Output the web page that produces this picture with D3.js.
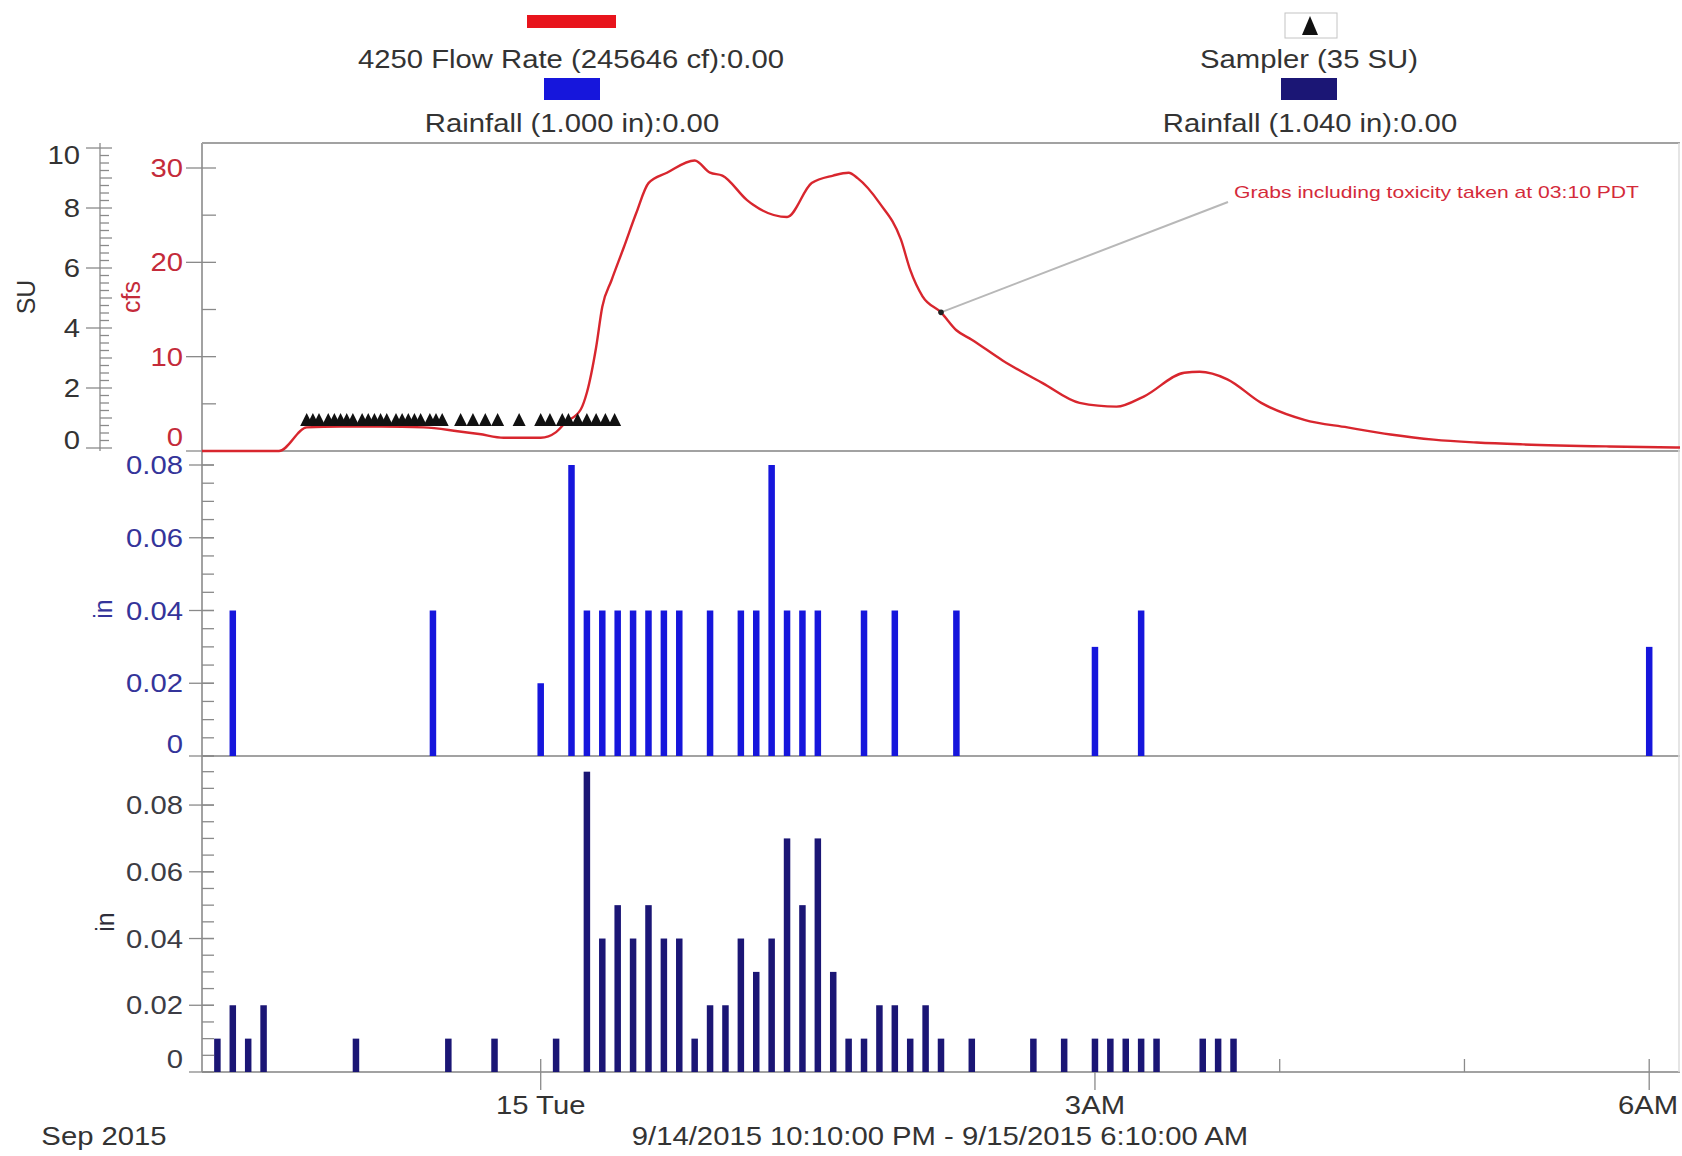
<!DOCTYPE html>
<html><head><meta charset="utf-8">
<script src="https://cdn.jsdelivr.net/npm/d3@7"></script>
<style>
body{margin:0;background:#fff;}
text{font-family:"Liberation Sans",Arial,sans-serif;}
</style>
</head><body>
<svg id="c" width="1682" height="1156"></svg>
<script>
// ---------------- DATA ----------------
const flowTimes = ["2015-09-14 22:10","2015-09-14 22:35","2015-09-14 22:44","2015-09-14 22:55","2015-09-14 23:08","2015-09-14 23:22","2015-09-14 23:33","2015-09-14 23:40","2015-09-14 23:48","2015-09-15 00:00","2015-09-15 00:05","2015-09-15 00:08","2015-09-15 00:13","2015-09-15 00:15","2015-09-15 00:18","2015-09-15 00:20","2015-09-15 00:23","2015-09-15 00:27","2015-09-15 00:31","2015-09-15 00:35","2015-09-15 00:41","2015-09-15 00:50","2015-09-15 00:55","2015-09-15 00:59","2015-09-15 01:07","2015-09-15 01:09","2015-09-15 01:20","2015-09-15 01:28","2015-09-15 01:35","2015-09-15 01:40","2015-09-15 01:43","2015-09-15 01:50","2015-09-15 01:57","2015-09-15 02:00","2015-09-15 02:04","2015-09-15 02:10","2015-09-15 02:15","2015-09-15 02:20","2015-09-15 02:30","2015-09-15 02:43","2015-09-15 02:55","2015-09-15 03:07","2015-09-15 03:16","2015-09-15 03:29","2015-09-15 03:34","2015-09-15 03:43","2015-09-15 03:54","2015-09-15 04:08","2015-09-15 04:22","2015-09-15 04:36","2015-09-15 04:50","2015-09-15 05:04","2015-09-15 05:19","2015-09-15 05:47","2015-09-15 06:10"];
const flowValues = [0,0,2.5,2.6,2.6,2.5,2.1,1.8,1.4,1.4,2.0,3.0,4.4,6.2,11.0,15.3,18.1,21.6,25.2,28.4,29.5,30.8,29.5,29.2,26.6,26.1,24.8,28.4,29.2,29.5,28.9,26.3,22.4,19.2,16.4,14.7,12.8,11.8,9.6,7.2,5.1,4.7,5.8,8.3,8.4,7.6,5.1,3.3,2.5,1.75,1.2,0.9,0.7,0.48,0.37];

const samplerTimes = ["2015-09-14 22:44","2015-09-14 22:46","2015-09-14 22:48","2015-09-14 22:51","2015-09-14 22:53","2015-09-14 22:55","2015-09-14 22:57","2015-09-14 22:59","2015-09-14 23:02","2015-09-14 23:04","2015-09-14 23:06","2015-09-14 23:08","2015-09-14 23:10","2015-09-14 23:13","2015-09-14 23:15","2015-09-14 23:17","2015-09-14 23:19","2015-09-14 23:21","2015-09-14 23:24","2015-09-14 23:26","2015-09-14 23:28","2015-09-14 23:34","2015-09-14 23:38","2015-09-14 23:42","2015-09-14 23:46","2015-09-14 23:53","2015-09-15 00:00","2015-09-15 00:03","2015-09-15 00:07","2015-09-15 00:09","2015-09-15 00:12","2015-09-15 00:15","2015-09-15 00:18","2015-09-15 00:21","2015-09-15 00:24"];
const samplerValues = [1,1,1,1,1,1,1,1,1,1,1,1,1,1,1,1,1,1,1,1,1,1,1,1,1,1,1,1,1,1,1,1,1,1,1];

const rain1Times = ["2015-09-14 22:20","2015-09-14 23:25","2015-09-15 00:00","2015-09-15 00:10","2015-09-15 00:15","2015-09-15 00:20","2015-09-15 00:25","2015-09-15 00:30","2015-09-15 00:35","2015-09-15 00:40","2015-09-15 00:45","2015-09-15 00:55","2015-09-15 01:05","2015-09-15 01:10","2015-09-15 01:15","2015-09-15 01:20","2015-09-15 01:25","2015-09-15 01:30","2015-09-15 01:45","2015-09-15 01:55","2015-09-15 02:15","2015-09-15 03:00","2015-09-15 03:15","2015-09-15 06:00"];
const rain1Values = [0.04,0.04,0.02,0.08,0.04,0.04,0.04,0.04,0.04,0.04,0.04,0.04,0.04,0.04,0.08,0.04,0.04,0.04,0.04,0.04,0.04,0.03,0.04,0.03];

const rain2Times = ["2015-09-14 22:15","2015-09-14 22:20","2015-09-14 22:25","2015-09-14 22:30","2015-09-14 23:00","2015-09-14 23:30","2015-09-14 23:45","2015-09-15 00:05","2015-09-15 00:15","2015-09-15 00:20","2015-09-15 00:25","2015-09-15 00:30","2015-09-15 00:35","2015-09-15 00:40","2015-09-15 00:45","2015-09-15 00:50","2015-09-15 00:55","2015-09-15 01:00","2015-09-15 01:05","2015-09-15 01:10","2015-09-15 01:15","2015-09-15 01:20","2015-09-15 01:25","2015-09-15 01:30","2015-09-15 01:35","2015-09-15 01:40","2015-09-15 01:45","2015-09-15 01:50","2015-09-15 01:55","2015-09-15 02:00","2015-09-15 02:05","2015-09-15 02:10","2015-09-15 02:20","2015-09-15 02:40","2015-09-15 02:50","2015-09-15 03:00","2015-09-15 03:05","2015-09-15 03:10","2015-09-15 03:15","2015-09-15 03:20","2015-09-15 03:35","2015-09-15 03:40","2015-09-15 03:45"];
const rain2Values = [0.01,0.02,0.01,0.02,0.01,0.01,0.01,0.01,0.09,0.04,0.05,0.04,0.05,0.04,0.04,0.01,0.02,0.02,0.04,0.03,0.04,0.07,0.05,0.07,0.03,0.01,0.01,0.02,0.02,0.01,0.02,0.01,0.01,0.01,0.01,0.01,0.01,0.01,0.01,0.01,0.01,0.01,0.01];

const timeDomain = ["2015-09-14 22:10","2015-09-15 06:10"];
const xTickTimes = ["2015-09-15 00:00","2015-09-15 03:00","2015-09-15 06:00"];
const xTickLabels = ["15 Tue","3AM","6AM"];
const suTicks = [0,2,4,6,8,10];
const cfsTicks = [0,10,20,30];
const rainTicks = [0,0.02,0.04,0.06,0.08];
const rainTickLabels = ["0","0.02","0.04","0.06","0.08"];
const legendLabels = ["4250 Flow Rate (245646 cf):0.00","Rainfall (1.000 in):0.00","Sampler (35 SU)","Rainfall (1.040 in):0.00"];
const annotationTime = "2015-09-15 02:10";
const annotationText = "Grabs including toxicity taken at 03:10 PDT";

// ---------------- SETUP ----------------
const svg = d3.select("#c");
const parse = d3.timeParse("%Y-%m-%d %H:%M");
const X0 = 202, X1 = 1680;
const x = d3.scaleTime().domain(timeDomain.map(parse)).range([X0, X1]);
const yFlow = d3.scaleLinear().domain([0, 32.65]).range([451, 143]);
const ySU = d3.scaleLinear().domain([-0.1, 10.167]).range([451, 143]);
const yR1 = d3.scaleLinear().domain([0, 0.08385]).range([756, 451]);
const yR2 = d3.scaleLinear().domain([0, 0.0947]).range([1072, 756]);

const C = {
  flow: "#d8262e", blue: "#1616dc", navy: "#1b1675", grid: "#a2a2a2", tick: "#8a8a8a",
  red: "#c42b3a", slate: "#34349a", dark: "#333333"
};
const STRETCH = 1.17;

// ---------------- FRAME ----------------
const frame = svg.append("g");
frame.append("line").attr("x1", X0).attr("x2", X1).attr("y1", 143).attr("y2", 143).attr("stroke", C.grid).attr("stroke-width", 2);
[451, 756, 1072].forEach(yy => frame.append("line").attr("x1", X0).attr("x2", X1).attr("y1", yy).attr("y2", yy).attr("stroke", C.grid).attr("stroke-width", 2));
frame.append("line").attr("x1", X0).attr("x2", X0).attr("y1", 143).attr("y2", 1072).attr("stroke", C.grid).attr("stroke-width", 2);
frame.append("line").attr("x1", 1679).attr("x2", 1679).attr("y1", 143).attr("y2", 1072).attr("stroke", "#dddddd").attr("stroke-width", 1.5);

// ---------------- Y AXES ----------------
function vTicks(g, scale, vals, x1, x2, color) {
  g.selectAll(null).data(vals).enter().append("line")
    .attr("x1", x1).attr("x2", x2)
    .attr("y1", d => scale(d)).attr("y2", d => scale(d))
    .attr("stroke", color).attr("stroke-width", 1.3);
}
function vLabels(g, scale, vals, labels, xr, color, nudge) {
  g.selectAll(null).data(vals).enter().append("text")
    .attr("class", "st")
    .attr("x", xr).attr("y", (d) => scale(d) + (nudge[d] || 0))
    .attr("dy", "0.36em").attr("text-anchor", "end")
    .attr("font-size", 25).attr("fill", color)
    .text((d, i) => labels[i]);
}
const ax = svg.append("g");
// SU axis
ax.append("line").attr("x1", 100).attr("x2", 100).attr("y1", 143).attr("y2", 451).attr("stroke", C.tick).attr("stroke-width", 1.3);
vTicks(ax, ySU, d3.range(0, 10.01, 0.25).filter(v => v % 1 !== 0), 100, 109, C.tick);
vTicks(ax, ySU, d3.range(0, 10.01, 1).filter(v => v % 2 !== 0), 100, 112, C.tick);
vTicks(ax, ySU, suTicks, 86, 112, C.tick);
vLabels(ax, ySU, suTicks, suTicks.map(String), 80, C.dark, {0: -8, 10: 7});
// cfs axis
vTicks(ax, yFlow, d3.range(5, 32, 10), 202, 216, C.tick);
vTicks(ax, yFlow, cfsTicks, 186, 216, C.tick);
vLabels(ax, yFlow, cfsTicks, cfsTicks.map(String), 183, C.red, {0: -14});
// rainfall axes
const minorR1 = d3.range(0, 0.0836, 0.005);
vTicks(ax, yR1, minorR1, 202, 214, C.tick);
vTicks(ax, yR1, rainTicks, 189, 214, C.tick);
vLabels(ax, yR1, rainTicks, rainTickLabels, 183, C.slate, {0: -12});
const minorR2 = d3.range(0, 0.0946, 0.005);
vTicks(ax, yR2, minorR2, 202, 214, C.tick);
vTicks(ax, yR2, rainTicks, 189, 214, C.tick);
vLabels(ax, yR2, rainTicks, rainTickLabels, 183, "#3c3c44", {0: -13});

// axis titles
function vTitle(txt, cx, cy, color) {
  svg.append("text").attr("transform", `translate(${cx},${cy}) rotate(-90)`)
    .attr("text-anchor", "middle").attr("dy", "0.35em")
    .attr("font-size", 25).attr("fill", color).text(txt);
}
vTitle("SU", 26, 297, C.dark);
vTitle("cfs", 131, 297, C.red);
vTitle("in", 103, 609, C.slate);
vTitle("in", 105, 922, "#2e2e3a");

// ---------------- X AXIS ----------------
const hourTicks = x.ticks(d3.timeHour.every(1));
svg.append("g").selectAll("line").data(hourTicks).enter().append("line")
  .attr("x1", d => x(d)).attr("x2", d => x(d)).attr("y1", 1059).attr("y2", 1072)
  .attr("stroke", C.tick).attr("stroke-width", 1.3);
const majorT = xTickTimes.map(parse);
svg.append("g").selectAll("line").data(majorT).enter().append("line")
  .attr("x1", d => x(d)).attr("x2", d => x(d)).attr("y1", 1072).attr("y2", 1090)
  .attr("stroke", C.tick).attr("stroke-width", 1.3);
svg.append("g").selectAll("text").data(majorT).enter().append("text")
  .attr("class", "st")
  .attr("x", (d, i) => Math.min(x(d), 1648)).attr("y", 1114)
  .attr("text-anchor", "middle").attr("font-size", 25).attr("fill", C.dark)
  .text((d, i) => xTickLabels[i]);
svg.append("text").attr("class", "st").attr("x", 104).attr("y", 1145).attr("text-anchor", "middle")
  .attr("font-size", 25).attr("fill", C.dark).text("Sep 2015");
svg.append("text").attr("class", "st").attr("x", 940).attr("y", 1145).attr("text-anchor", "middle")
  .attr("font-size", 25).attr("fill", C.dark)
  .text(d3.timeFormat("%-m/%-d/%Y %-I:%M:%S %p")(x.domain()[0]) + " - " + d3.timeFormat("%-m/%-d/%Y %-I:%M:%S %p")(x.domain()[1]));

// ---------------- FLOW LINE ----------------
const flowData = flowTimes.map((t, i) => ({t: parse(t), v: flowValues[i]}));
const line = d3.line().x(d => x(d.t)).y(d => yFlow(d.v)).curve(d3.curveMonotoneX);
svg.append("path").datum(flowData).attr("d", line)
  .attr("fill", "none").attr("stroke", C.flow).attr("stroke-width", 2.4).attr("stroke-linejoin", "round");

// ---------------- SAMPLER ----------------
const sampData = samplerTimes.map((t, i) => ({t: parse(t), v: samplerValues[i]}));
svg.append("g").selectAll("path").data(sampData).enter().append("path")
  .attr("d", d => {
    const cx = x(d.t), cy = ySU(d.v) + 2;
    return `M${cx},${cy - 7}L${cx + 6.5},${cy + 6}L${cx - 6.5},${cy + 6}Z`;
  })
  .attr("fill", "#111");

// ---------------- RAIN BARS ----------------
const BW = 6.5;
svg.append("g").selectAll("rect").data(rain1Times.map((t, i) => ({t: parse(t), v: rain1Values[i]}))).enter().append("rect")
  .attr("x", d => x(d.t) - BW / 2).attr("width", BW)
  .attr("y", d => yR1(d.v)).attr("height", d => yR1(0) - yR1(d.v))
  .attr("fill", C.blue);
svg.append("g").selectAll("rect").data(rain2Times.map((t, i) => ({t: parse(t), v: rain2Values[i]}))).enter().append("rect")
  .attr("x", d => x(d.t) - BW / 2).attr("width", BW)
  .attr("y", d => yR2(d.v)).attr("height", d => yR2(0) - yR2(d.v))
  .attr("fill", C.navy);

// ---------------- ANNOTATION ----------------
const aT = parse(annotationTime);
const aV = flowData.find(d => +d.t === +aT).v;
const ax0 = x(aT), ay0 = yFlow(aV);
svg.append("line").attr("x1", ax0).attr("y1", ay0).attr("x2", 1228).attr("y2", 202)
  .attr("stroke", "#b8b8b8").attr("stroke-width", 2);
svg.append("circle").attr("cx", ax0).attr("cy", ay0).attr("r", 2.8).attr("fill", "#222");
svg.append("text").attr("x", 1234).attr("y", 198).attr("font-size", 17).attr("fill", "#d42a3a")
  .attr("textLength", 405).attr("lengthAdjust", "spacingAndGlyphs").text(annotationText);

// ---------------- LEGEND ----------------
const lg = svg.append("g");
lg.append("rect").attr("x", 527).attr("y", 15).attr("width", 89).attr("height", 13).attr("fill", "#e8141c");
lg.append("rect").attr("x", 544).attr("y", 78).attr("width", 56).attr("height", 22).attr("fill", C.blue);
lg.append("rect").attr("x", 1285).attr("y", 13).attr("width", 52).attr("height", 25).attr("fill", "none").attr("stroke", "#c4c4c4").attr("stroke-width", 1);
lg.append("path").attr("d", "M1310,16L1318,35L1302,35Z").attr("fill", "#111");
lg.append("rect").attr("x", 1281).attr("y", 78).attr("width", 56).attr("height", 22).attr("fill", C.navy);
const legPos = [[571, 68], [572, 132], [1309, 68], [1310, 132]];
lg.selectAll("text").data(legendLabels).enter().append("text")
  .attr("class", "st").attr("x", (d, i) => legPos[i][0]).attr("y", (d, i) => legPos[i][1])
  .attr("text-anchor", "middle").attr("font-size", 25).attr("fill", C.dark).text(d => d);

// horizontal stretch of text to match reference glyph proportions
svg.selectAll("text.st").each(function() {
  const L = this.getComputedTextLength();
  this.setAttribute("textLength", L * STRETCH);
  this.setAttribute("lengthAdjust", "spacingAndGlyphs");
});
</script>
</body></html>
